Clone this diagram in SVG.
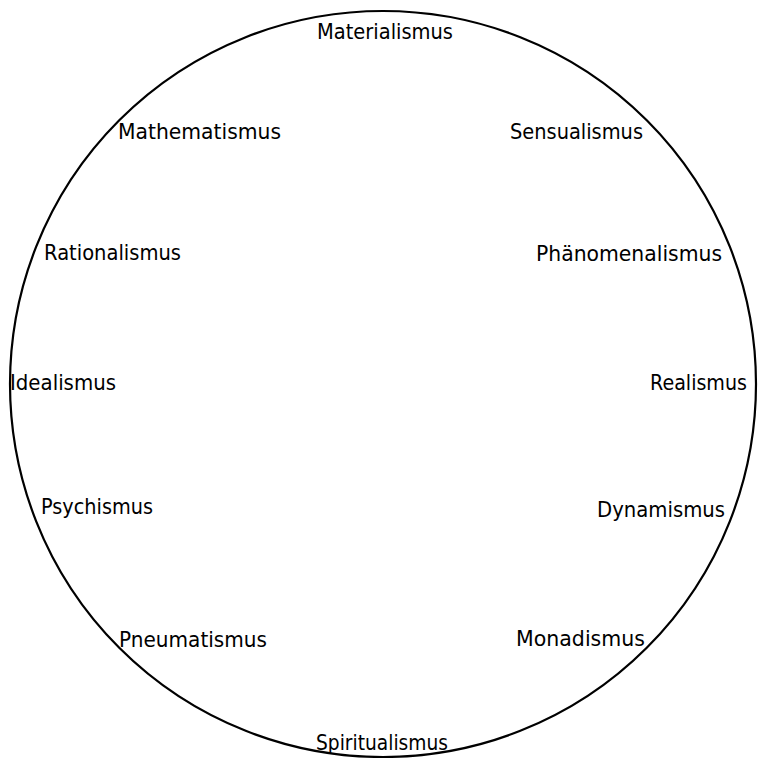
<svg xmlns="http://www.w3.org/2000/svg" width="758" height="758" viewBox="0 0 758 758">
<style>
text{font-family:"DejaVu Sans","Liberation Sans",sans-serif;font-size:20.5px;fill:#000}
.ring{fill:none;stroke:#000;stroke-width:2.2}
</style>
<rect width="758" height="758" fill="#fff"/>
<g id="ring"><circle class="ring" cx="383" cy="384" r="373"/></g>
<g id="labels">
<g id="n-materialismus"><text x="317" y="39" textLength="136" lengthAdjust="spacingAndGlyphs">Materialismus</text></g>
<g id="n-mathematismus"><text x="118" y="139" textLength="163" lengthAdjust="spacingAndGlyphs">Mathematismus</text></g>
<g id="n-sensualismus"><text x="510" y="139" textLength="133" lengthAdjust="spacingAndGlyphs">Sensualismus</text></g>
<g id="n-rationalismus"><text x="44" y="260" textLength="137" lengthAdjust="spacingAndGlyphs">Rationalismus</text></g>
<g id="n-phaenomenalismus"><text x="536" y="261" textLength="186" lengthAdjust="spacingAndGlyphs">Phänomenalismus</text></g>
<g id="n-idealismus"><text x="10" y="390" textLength="106" lengthAdjust="spacingAndGlyphs">Idealismus</text></g>
<g id="n-realismus"><text x="650" y="390" textLength="97" lengthAdjust="spacingAndGlyphs">Realismus</text></g>
<g id="n-psychismus"><text x="41" y="514" textLength="112" lengthAdjust="spacingAndGlyphs">Psychismus</text></g>
<g id="n-dynamismus"><text x="597" y="517" textLength="128" lengthAdjust="spacingAndGlyphs">Dynamismus</text></g>
<g id="n-pneumatismus"><text x="119" y="647" textLength="148" lengthAdjust="spacingAndGlyphs">Pneumatismus</text></g>
<g id="n-monadismus"><text x="516" y="646" textLength="129" lengthAdjust="spacingAndGlyphs">Monadismus</text></g>
<g id="n-spiritualismus"><text x="316" y="750" textLength="132" lengthAdjust="spacingAndGlyphs">Spiritualismus</text></g>
</g>
</svg>
